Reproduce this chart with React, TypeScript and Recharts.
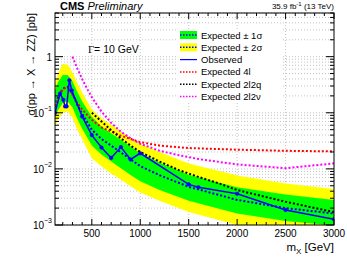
import React from 'react';
import { ComposedChart, Area, Line, XAxis, YAxis, CartesianGrid } from 'recharts';

// ---- data ----
const massBand = [120, 150, 200, 250, 300, 350, 400, 500, 600, 700, 800, 900, 1000, 1200, 1500, 2000, 2500, 3000];
const expMedian = [0.13, 0.19, 0.27, 0.29, 0.22, 0.14, 0.095, 0.05, 0.034, 0.026, 0.0197, 0.0148, 0.0112, 0.0077, 0.0048, 0.0028, 0.002, 0.0016];
const exp1Up = [0.25, 0.35, 0.47, 0.47, 0.37, 0.235, 0.16, 0.085, 0.057, 0.043, 0.033, 0.025, 0.019, 0.013, 0.0079, 0.0047, 0.0035, 0.0028];
const exp1Dn = [0.08, 0.11, 0.15, 0.16, 0.125, 0.078, 0.052, 0.026, 0.018, 0.0135, 0.0103, 0.0078, 0.006, 0.0042, 0.0027, 0.0016, 0.00118, 0.00098];
const exp2Up = [0.32, 0.5, 0.75, 0.72, 0.53, 0.34, 0.23, 0.115, 0.08, 0.061, 0.047, 0.036, 0.028, 0.02, 0.0125, 0.0076, 0.0055, 0.0044];
const exp2Dn = [0.055, 0.075, 0.1, 0.105, 0.082, 0.05, 0.034, 0.0155, 0.011, 0.0083, 0.0064, 0.0049, 0.0038, 0.0027, 0.0017, 0.001, 0.00075, 0.0006];

const obsMass = [120, 172, 206, 224, 240, 268, 293, 400, 500, 600, 700, 800, 900, 1000, 1500, 1600, 2000, 2500, 3000];
const obsVal = [0.1, 0.22, 0.17, 0.13, 0.13, 0.38, 0.25, 0.086, 0.04, 0.024, 0.0157, 0.0245, 0.0147, 0.019, 0.0053, 0.0047, 0.0036, 0.00185, 0.00127];

const redMass = [120, 150, 175, 200, 230, 260, 300, 350, 400, 500, 600, 800, 1000, 1200, 1500, 2000, 2500, 3000];
const redVal = [0.13, 0.17, 0.22, 0.26, 0.28, 0.27, 0.21, 0.15, 0.115, 0.075, 0.055, 0.039, 0.03, 0.026, 0.0235, 0.022, 0.021, 0.0205];

const blkMass = [500, 600, 700, 800, 900, 1000, 1200, 1400, 1600, 1800, 2000, 2250, 2500, 2750, 3000];
const blkVal = [0.1, 0.07, 0.049, 0.035, 0.026, 0.02, 0.0135, 0.0095, 0.0072, 0.0056, 0.0042, 0.0033, 0.0026, 0.0021, 0.0017];

const magMass = [300, 350, 400, 450, 500, 600, 700, 800, 900, 1000, 1200, 1400, 1600, 2000, 2500, 3000];
const magVal = [1.0, 0.62, 0.4, 0.27, 0.19, 0.105, 0.066, 0.046, 0.035, 0.028, 0.021, 0.0175, 0.015, 0.012, 0.0103, 0.0125];

const xTicks: number[] = [];
for (let v = 200; v <= 3000; v += 100) xTicks.push(v);
const yTicks: number[] = [];
for (let e = -3; e <= 0; e++) for (let k = 1; k <= 9; k++) { const v = k * Math.pow(10, e); if (v <= 6.0001) yTicks.push(+v.toPrecision(3)); }
const yMajor = [0.001, 0.01, 0.1, 1];
const yMajorLabels = ['−3', '−2', '−1', ''];

// ---- layout ----
const W = 347, H = 260;
const M = { top: 13, right: 13, left: 0, bottom: 0 };
const YW = 55, XH = 35;
const PL = M.left + YW, PR = W - M.right, PT = M.top, PB = H - M.bottom - XH;
const FONT = '"Liberation Sans", Arial, Helvetica, sans-serif';

const bandRows = massBand.map((m, i) => ({ m, s1: [exp1Dn[i], exp1Up[i]], s2: [exp2Dn[i], exp2Up[i]], med: expMedian[i] }));
const rows = (ms: number[], vs: number[]) => ms.map((m, i) => ({ m, v: vs[i] }));

const XTick = (props: any) => {
  const { x, payload } = props;
  const v = payload.value;
  const major = v % 500 === 0;
  const len = major ? 6 : 3;
  return (
    <g>
      <line x1={x} x2={x} y1={PB} y2={PB - len} stroke="#000" strokeWidth={1} />
      <line x1={x} x2={x} y1={PT} y2={PT + len} stroke="#000" strokeWidth={1} />
      {major && (
        <text x={x} y={PB + 12} textAnchor="middle" fontSize={10} fontFamily={FONT} fill="#000">{v}</text>
      )}
    </g>
  );
};

const YTick = (props: any) => {
  const { y, payload } = props;
  const v = payload.value;
  const mi = yMajor.findIndex((t) => Math.abs(t - v) / t < 1e-6);
  const major = mi >= 0;
  const len = major ? 8 : 4;
  return (
    <g>
      <line x1={PL} x2={PL + len} y1={y} y2={y} stroke="#000" strokeWidth={1} />
      <line x1={PR} x2={PR - len} y1={y} y2={y} stroke="#000" strokeWidth={1} />
      {major && (yMajorLabels[mi] === '' ? (
        <text x={PL - 3} y={y + 4} textAnchor="end" fontSize={10} fontFamily={FONT} fill="#000">1</text>
      ) : (
        <text x={PL - 3} y={y + 4} textAnchor="end" fontSize={10} fontFamily={FONT} fill="#000">
          10<tspan dy={-6} fontSize={7}>{yMajorLabels[mi]}</tspan>
        </text>
      ))}
    </g>
  );
};

const legendItems = [
  { kind: 'band', fill: '#00ff00', label: 'Expected ± 1σ' },
  { kind: 'band', fill: '#ffff00', label: 'Expected ± 2σ' },
  { kind: 'solid', color: '#0000ff', label: 'Observed' },
  { kind: 'dot', color: '#ff0000', label: 'Expected 4l' },
  { kind: 'dot', color: '#000000', label: 'Expected 2l2q' },
  { kind: 'dot', color: '#ff00ff', label: 'Expected 2l2ν' },
];

export default function App() {
  return (
    <div style={{ position: 'absolute', left: 0, top: 0, width: W, height: H, background: '#fff' }}>
      <ComposedChart width={W} height={H} margin={M}>
        <CartesianGrid stroke="#c4c4c4" strokeDasharray="1 2" horizontalValues={yTicks} verticalValues={[500, 1000, 1500, 2000, 2500]} />
        <XAxis type="number" dataKey="m" domain={[120, 3000]} allowDataOverflow scale="linear" ticks={xTicks} interval={0}
          tick={<XTick />} tickLine={false} axisLine={false} height={XH} tickSize={0} tickMargin={0} />
        <YAxis type="number" scale="log" domain={[0.001, 6]} allowDataOverflow ticks={yTicks} interval={0}
          tick={<YTick />} tickLine={false} axisLine={false} width={YW} tickSize={0} tickMargin={0} />
        <Area data={bandRows} dataKey="s2" type="linear" stroke="none" fill="#ffff00" fillOpacity={1} isAnimationActive={false} />
        <Area data={bandRows} dataKey="s1" type="linear" stroke="none" fill="#00ff00" fillOpacity={1} isAnimationActive={false} />
        <Line data={bandRows} dataKey="med" type="linear" stroke="#0000ff" strokeWidth={2} strokeDasharray="2 2" dot={false} isAnimationActive={false} />
        <Line data={rows(redMass, redVal)} dataKey="v" type="linear" stroke="#ff0000" strokeWidth={2} strokeDasharray="2 2" dot={false} isAnimationActive={false} />
        <Line data={rows(blkMass, blkVal)} dataKey="v" type="linear" stroke="#000000" strokeWidth={2} strokeDasharray="2 2" dot={false} isAnimationActive={false} />
        <Line data={rows(magMass, magVal)} dataKey="v" type="linear" stroke="#ff00ff" strokeWidth={2} strokeDasharray="2 2" dot={false} isAnimationActive={false} />
        <Line data={rows(obsMass, obsVal)} dataKey="v" type="linear" stroke="#0000ff" strokeWidth={1.5}
          dot={{ r: 1.8, fill: '#0000ff', stroke: '#0000ff', strokeWidth: 0.5 }} isAnimationActive={false} />
      </ComposedChart>
      <svg width={W} height={H} style={{ position: 'absolute', left: 0, top: 0, pointerEvents: 'none' }} fontFamily={FONT}>
        <rect x={PL} y={PT} width={PR - PL} height={PB - PT} fill="none" stroke="#000" strokeWidth={1} />
        <text x={60} y={10} fontSize={11} fontWeight="bold" fill="#000">CMS <tspan fontWeight="normal" fontStyle="italic">Preliminary</tspan></text>
        <text x={PR} y={9} fontSize={8} textAnchor="end" fill="#000">35.9 fb<tspan dy={-3} fontSize={6}>-1</tspan><tspan dy={3}> (13 TeV)</tspan></text>
        <text x={88} y={53} fontSize={10.5} fill="#000"><tspan fontFamily='"Liberation Serif", "Times New Roman", serif'>Γ</tspan>= 10 GeV</text>
        <text transform={`translate(35, ${PT}) rotate(-90)`} textAnchor="end" fontSize={11} fill="#000">σ(pp → X → ZZ) [pb]</text>
        <text x={PR} y={251} textAnchor="end" fontSize={11.5} fill="#000">m<tspan dy={3} fontSize={8}>X</tspan><tspan dy={-3}> [GeV]</tspan></text>
        <rect x={176} y={29} width={105} height={74} fill="#fff" />
        {legendItems.map((it, i) => {
          const cy = 35 + i * 12.3;
          return (
            <g key={i}>
              {it.kind === 'band' && (
                <>
                  <rect x={180} y={cy - 4} width={17} height={8} fill={it.fill} />
                  <line x1={180} x2={197} y1={cy} y2={cy} stroke="#0000ff" strokeWidth={1.5} strokeDasharray="1.5 1.5" />
                </>
              )}
              {it.kind === 'solid' && <line x1={180} x2={197} y1={cy} y2={cy} stroke={it.color} strokeWidth={1.2} />}
              {it.kind === 'dot' && <line x1={180} x2={197} y1={cy} y2={cy} stroke={it.color} strokeWidth={1.5} strokeDasharray="1.5 1.5" />}
              <text x={201} y={cy + 3.5} fontSize={9.5} fill="#000">{it.label}</text>
            </g>
          );
        })}
      </svg>
    </div>
  );
}
